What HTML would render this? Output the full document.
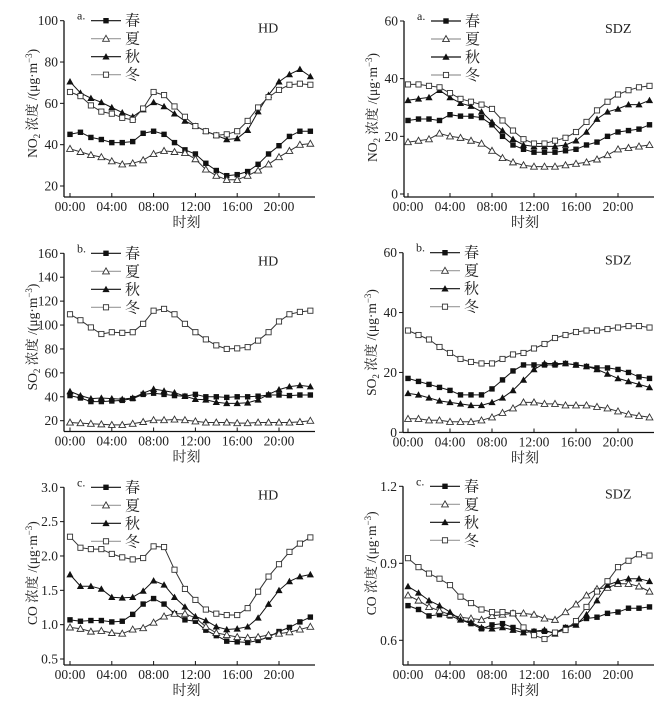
<!DOCTYPE html>
<html><head><meta charset="utf-8">
<style>
html,body{margin:0;padding:0;background:#fff;}
svg{display:block;}
text{font-family:"Liberation Serif","Noto Serif CJK SC",serif;fill:#222;}
</style></head>
<body>
<svg id="chart" width="671" height="706" viewBox="0 0 671 706" xmlns="http://www.w3.org/2000/svg"></svg>
<script>
const hours = ["00:00","01:00","02:00","03:00","04:00","05:00","06:00","07:00","08:00","09:00","10:00","11:00","12:00","13:00","14:00","15:00","16:00","17:00","18:00","19:00","20:00","21:00","22:00","23:00"];
const xTickLabels = ["00:00","04:00","08:00","12:00","16:00","20:00"];
const seasons = ["春","夏","秋","冬"];

const no2HdSpring = [45,46,43.5,42.5,41,41,41.5,45.5,46.5,45,41,37.5,35.5,31,27.5,25,25.5,27,30.5,35.5,39.5,44,46.5,46.5];
const no2HdSummer = [38,36.5,35,34,32,30.5,31,32.5,35.5,37,36.5,36,33,28,25,23,23,25,27.5,30.5,34,37,40,40.5];
const no2HdAutumn = [70.5,65,62.5,60.5,58,55.5,53.5,57,60.5,58.5,55,51.5,49,46.5,44.5,42.5,43,47,56,64,70.5,74,76.5,73];
const no2HdWinter = [65.5,63.5,59,56,55,53,52,57.5,65.5,64,58.5,53.5,49,46.5,44.5,45,46.5,51.5,58,63,66.5,69,69.5,69];

const no2SdzSpring = [25.5,26,26,25.5,27.5,27,27,26.5,24,20,17,15.5,14.5,14.5,14.5,15,15.5,17,18,20,21.5,22,22.5,24];
const no2SdzSummer = [18,18.5,19,21,20,19.5,18.5,17.5,15,12.5,11,10,9.5,9.5,9.5,10,10.5,11,12,13.5,15.5,16,16.5,17];
const no2SdzAutumn = [32.5,33,33.5,36,33.5,31.5,30.5,28.5,25,22,19,17,16.5,16.5,16.5,17,18.5,21.5,26,28.5,29.5,31,31,32.5];
const no2SdzWinter = [38,38,37.5,37,35,33,32,31,29.5,25.5,22,19,17.5,17.5,18.5,19.5,21.5,25,29,32,34.5,36,37,37.5];

const so2HdSpring = [41,39,36,36,36.5,37,38.5,42,43,42,41,40.5,42,40,40,39.5,40,40,40.5,41.5,41.5,41,41.5,41.5];
const so2HdSummer = [18.5,18,17.5,17,16.5,16.5,17.5,19,20.5,20.5,21,20.5,19.5,18.5,18.5,18.5,18,18,18.5,18.5,18.5,18.5,19,20];
const so2HdAutumn = [44.5,41,38.5,39,38.5,38,39,43,46.5,45,43.5,40.5,38,37.5,35.5,34.5,34.5,35,37.5,42,46,48.5,49.5,48.5];
const so2HdWinter = [109,104,98,92.5,94,93.5,94,101,112,113.5,109,101,94,88,83,80,80.5,81.5,87,94,103,109,111,112];

const so2SdzSpring = [18,17,16,15,14,12.5,12.5,12.5,14.5,17.5,20.5,22.5,22.5,22.5,22.5,23,22.5,22,21.5,21.5,21,20,18.5,18];
const so2SdzSummer = [4.5,4.5,4,4,3.5,3.5,3.5,4,5,6.5,8,10,10,9.5,9.5,9,9,9,8.5,8,7,6,5.5,5];
const so2SdzAutumn = [13,12.5,11.5,10.5,10,9.5,9,9,10,11.5,14,17.5,21,23,23,23,22.5,22,21,19.5,18,17,16,15];
const so2SdzWinter = [34,32.5,31,28.5,26.5,24.5,23.5,23,23,24.5,26,26.5,28,29.5,31.5,32.5,33.5,34,34,34.5,35,35.5,35.5,35];

const coHdSpring = [1.07,1.05,1.06,1.06,1.04,1.05,1.15,1.3,1.38,1.3,1.16,1.07,1.05,0.92,0.84,0.76,0.75,0.74,0.77,0.82,0.9,0.96,1.04,1.11];
const coHdSummer = [0.96,0.94,0.9,0.91,0.88,0.87,0.93,0.95,1.03,1.12,1.16,1.16,1.1,0.97,0.88,0.85,0.82,0.81,0.82,0.85,0.87,0.89,0.93,0.97];
const coHdAutumn = [1.73,1.56,1.56,1.52,1.4,1.39,1.4,1.49,1.64,1.58,1.4,1.26,1.12,1.06,0.97,0.93,0.94,0.97,1.1,1.3,1.5,1.63,1.7,1.73];
const coHdWinter = [2.28,2.12,2.1,2.1,2.03,1.98,1.95,1.97,2.14,2.13,1.8,1.52,1.36,1.22,1.16,1.14,1.14,1.24,1.48,1.7,1.88,2.06,2.18,2.27];

const coSdzSpring = [0.735,0.72,0.695,0.70,0.695,0.68,0.665,0.645,0.66,0.665,0.65,0.64,0.635,0.635,0.63,0.65,0.665,0.685,0.69,0.705,0.71,0.725,0.725,0.73];
const coSdzSummer = [0.775,0.755,0.73,0.715,0.70,0.69,0.685,0.68,0.695,0.70,0.705,0.705,0.70,0.685,0.68,0.71,0.74,0.775,0.80,0.805,0.82,0.82,0.81,0.79];
const coSdzAutumn = [0.81,0.785,0.755,0.735,0.71,0.68,0.67,0.65,0.645,0.65,0.64,0.63,0.635,0.64,0.625,0.65,0.66,0.70,0.755,0.815,0.83,0.84,0.84,0.83];
const coSdzWinter = [0.92,0.885,0.86,0.84,0.815,0.77,0.745,0.72,0.71,0.71,0.705,0.65,0.62,0.605,0.63,0.64,0.675,0.73,0.79,0.83,0.885,0.91,0.935,0.93];

const no2HdTicks = [20,40,60,80,100];
const no2SdzTicks = [0,20,40,60];
const so2HdTicks = [20,40,60,80,100,120,140,160];
const so2SdzTicks = [0,20,40,60];
const coHdTicks = [0.5,1.0,1.5,2.0,2.5,3.0];
const coSdzTicks = [0.6,0.9,1.2];

const NS = "http://www.w3.org/2000/svg";
const svg = document.getElementById("chart");
function mk(tag, attrs, parent){
  const e = document.createElementNS(NS, tag);
  for (const k in attrs) e.setAttribute(k, attrs[k]);
  (parent||svg).appendChild(e);
  return e;
}
const lineColor = ["#111","#333","#111","#333"];
const legendLine = ["#111","#999","#111","#999"];
function marker(g, kind, x, y){
  let m;
  if (kind===0) m = mk("rect",{x:x-2.7,y:y-2.7,width:5.4,height:5.4,fill:"#111"},g);
  else if (kind===1) m = mk("polygon",{points:`${x},${y-3.4} ${x+3.4},${y+2.6} ${x-3.4},${y+2.6}`,fill:"#fff",stroke:"#333","stroke-width":0.9},g);
  else if (kind===2) m = mk("polygon",{points:`${x},${y-3.6} ${x+3.6},${y+2.8} ${x-3.6},${y+2.8}`,fill:"#111"},g);
  else m = mk("rect",{x:x-2.6,y:y-2.6,width:5.2,height:5.2,fill:"#fff",stroke:"#333","stroke-width":0.9},g);
  
  
  return m;
}

function panel(cfg){
  const g = mk("g",{});
  
  
  const yScale = v => cfg.p0 + (v - cfg.v0) * (cfg.p1 - cfg.p0) / (cfg.v1 - cfg.v0);
  const xScale = i => cfg.hx0 + i * cfg.hs;
  const topY = yScale(cfg.ticks[cfg.ticks.length-1]);
  // axes
  const ya = mk("line",{x1:cfg.left,y1:topY,x2:cfg.left,y2:cfg.bottom,stroke:"#111","stroke-width":1.3},g);
   
  const xa = mk("line",{x1:cfg.left,y1:cfg.bottom,x2:cfg.right,y2:cfg.bottom,stroke:"#111","stroke-width":1.3},g);
   
  cfg.ticks.forEach(t=>{
    const y = yScale(t);
    mk("line",{x1:cfg.left-4,y1:y,x2:cfg.left,y2:y,stroke:"#111","stroke-width":1},g);
    const tx = mk("text",{x:cfg.left-6,y:y+4.5,"text-anchor":"end","font-size":13.5},g);
    tx.textContent = cfg.fmt ? t.toFixed(1) : String(t);
     
  });
  xTickLabels.forEach(lbl=>{
    const i = hours.indexOf(lbl);
    const x = xScale(i);
    mk("line",{x1:x,y1:cfg.bottom,x2:x,y2:cfg.bottom-4,stroke:"#111","stroke-width":1},g);
    const tx = mk("text",{x:x,y:cfg.bottom+14,"text-anchor":"middle","font-size":13.5},g);
    tx.textContent = lbl;
     
  });
  const xt = mk("text",{x:(cfg.hx0+cfg.right)/2-6,y:cfg.bottom+30,"text-anchor":"middle","font-size":14},g);
  xt.textContent = "时刻";
   
  const cy = (topY + yScale(cfg.ticks[0]))/2;
  const yt = mk("text",{x:0,y:0,"text-anchor":"middle","font-size":13.5,transform:`translate(${cfg.left-27},${cy}) rotate(-90)`},g);
   
  const t1 = mk("tspan",{},yt); t1.textContent = cfg.species;
  if (cfg.sub){ const s = mk("tspan",{"font-size":9,dy:3},yt); s.textContent = cfg.sub; }
  const t2 = mk("tspan",{dy:cfg.sub?-3:0},yt); t2.textContent = " 浓度 /(μg·m";
  const s2 = mk("tspan",{"font-size":9,dy:-5},yt); s2.textContent = "−3";
  const t3 = mk("tspan",{dy:5},yt); t3.textContent = ")";
  // series
  cfg.series.forEach((arr,k)=>{
    const pts = arr.map((v,i)=>`${xScale(i).toFixed(1)},${yScale(v).toFixed(1)}`).join(" ");
    const pl = mk("polyline",{points:pts,fill:"none",stroke:lineColor[k],"stroke-width":1},g);
     
    arr.forEach((v,i)=>marker(g,k,xScale(i),yScale(v)));
  });
  // legend
  const lx = cfg.left + 27;
  seasons.forEach((s,k)=>{
    const y = topY + k*18;
    const le = mk("g",{},g);
     
    mk("line",{x1:lx,y1:y,x2:lx+30,y2:y,stroke:legendLine[k],"stroke-width":1.2},le);
    marker(le,k,lx+15,y);
    const tx = mk("text",{x:lx+34,y:y+5,"font-size":15},le);
    tx.textContent = s;
  });
  const pl = mk("text",{x:cfg.left+13,y:topY-1,"font-size":12},g);
  pl.textContent = cfg.letter;
   
  const st = mk("text",{x:cfg.site==="HD"?258:605,y:topY+12,"font-size":14},g);
  st.textContent = cfg.site;
   
}

panel({name:"no2-hd-panel",species:"NO",sub:"2",letter:"a.",site:"HD",ticks:no2HdTicks,v0:20,p0:186,v1:100,p1:20.7,bottom:197,left:64,right:315,hx0:70,hs:10.45,series:[no2HdSpring,no2HdSummer,no2HdAutumn,no2HdWinter]});
panel({name:"no2-sdz-panel",species:"NO",sub:"2",letter:"a.",site:"SDZ",ticks:no2SdzTicks,v0:0,p0:194,v1:60,p1:21,bottom:197,left:404,right:654,hx0:408,hs:10.5,series:[no2SdzSpring,no2SdzSummer,no2SdzAutumn,no2SdzWinter]});
panel({name:"so2-hd-panel",species:"SO",sub:"2",letter:"b.",site:"HD",ticks:so2HdTicks,v0:20,p0:420.7,v1:160,p1:253.3,bottom:431.5,left:64,right:315,hx0:70,hs:10.45,series:[so2HdSpring,so2HdSummer,so2HdAutumn,so2HdWinter]});
panel({name:"so2-sdz-panel",species:"SO",sub:"2",letter:"b.",site:"SDZ",ticks:so2SdzTicks,v0:0,p0:432.3,v1:60,p1:252.7,bottom:432.5,left:403,right:654,hx0:408,hs:10.5,series:[so2SdzSpring,so2SdzSummer,so2SdzAutumn,so2SdzWinter]});
panel({name:"co-hd-panel",species:"CO",sub:"",letter:"c.",site:"HD",fmt:true,ticks:coHdTicks,v0:0.5,p0:659,v1:3.0,p1:487.3,bottom:665,left:64,right:315,hx0:70,hs:10.45,series:[coHdSpring,coHdSummer,coHdAutumn,coHdWinter]});
panel({name:"co-sdz-panel",species:"CO",sub:"",letter:"c.",site:"SDZ",fmt:true,ticks:coSdzTicks,v0:0.6,p0:640.3,v1:1.2,p1:486.3,bottom:665,left:403,right:654,hx0:408,hs:10.5,series:[coSdzSpring,coSdzSummer,coSdzAutumn,coSdzWinter]});
</script>
</body></html>
